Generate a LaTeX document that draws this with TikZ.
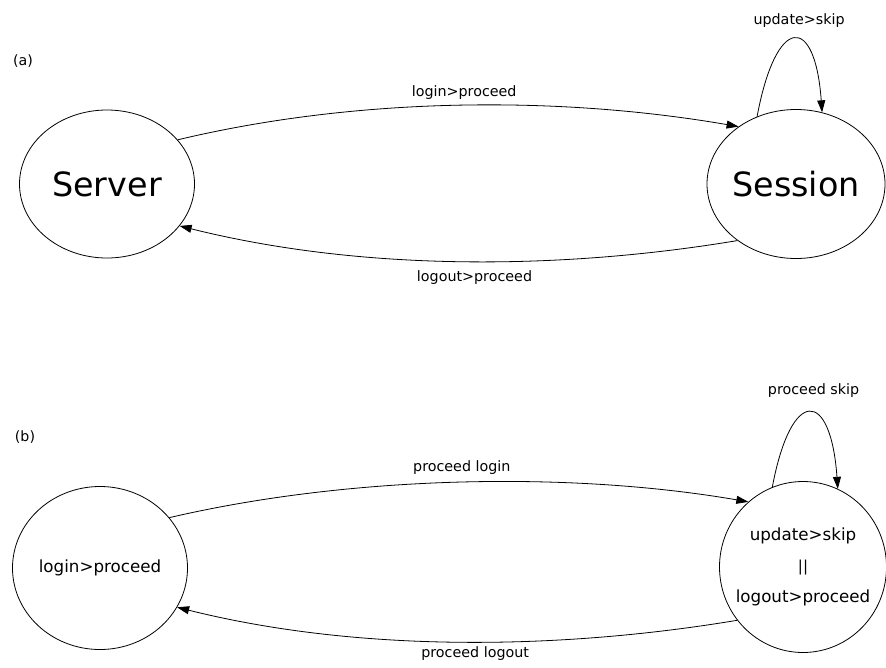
\documentclass[tikz,border=0pt]{standalone}
\usepackage{fontspec}
\setmainfont{DejaVu Sans}
\usetikzlibrary{arrows.meta, shapes.geometric}

\begin{document}
\begin{tikzpicture}[x=1pt, y=-1pt, line width=0.8pt,
        >={Triangle[length=12pt, width=8pt]},
        state/.style={draw, ellipse, inner sep=0pt},
        elabel/.style={inner sep=0pt, font=\fontsize{14.3}{17}\selectfont},
        tag/.style={inner sep=0pt, font=\fontsize{14.2}{16}\selectfont}]
        \useasboundingbox (0,0) rectangle (886,667);

        % (a)
        \node[tag] (taga) at (23,61) {(a)};
        \node[state, minimum width=175pt, minimum height=148pt,
                font=\fontsize{33.4}{40}\selectfont] (server) at (107,184) {Server};
        \node[state, minimum width=178pt, minimum height=149pt, inner xsep=-3pt,
                font=\fontsize{33.4}{40}\selectfont] (session) at (796,184) {Session};
        \draw[->] (server.32) .. controls +(180,-43) and +(-180,-31) ..
                node[elabel, above=6pt, xshift=6pt] (lbllogin) {login>proceed} (session.135);
        \draw[->] (session.224) .. controls +(-180,30) and +(180,45) ..
                node[elabel, below=9pt, xshift=16pt] (lbllogout) {logout>proceed} (server.-30);
        \draw[->] (session.120) .. controls +(19,-102) and +(-7,-99) ..
                node[elabel, above=11pt, xshift=5pt] (lblupdate) {update>skip} (session.70);

        % (b)
        \node[tag] (tagb) at (25,437) {(b)};
        \node[state, minimum width=175pt, minimum height=163pt,
                font=\fontsize{16.7}{20}\selectfont] (serverb) at (100,568) {login>proceed};
        \node[state, minimum width=167pt, minimum height=171pt, inner xsep=-15pt, align=center,
                font=\fontsize{16.7}{31}\selectfont] (sessionb) at (803,567)
                {update>skip\\{\fontsize{15}{15}\selectfont ||}\\logout>proceed};
        \draw[->] (serverb.36) .. controls +(180,-42) and +(-180,-31) ..
                node[elabel, above=8pt, xshift=3pt] (lblplogin) {proceed login} (sessionb.130);
        \draw[->] (sessionb.219) .. controls +(-180,30) and +(180,45) ..
                node[elabel, below=4pt, xshift=18pt] (lblplogout) {proceed logout} (serverb.-27);
        \draw[->] (sessionb.111) .. controls +(19,-101) and +(-7,-100) ..
                node[elabel, above=15pt, xshift=4pt] (lblpskip) {proceed skip} (sessionb.66);
\end{tikzpicture}
\end{document}
